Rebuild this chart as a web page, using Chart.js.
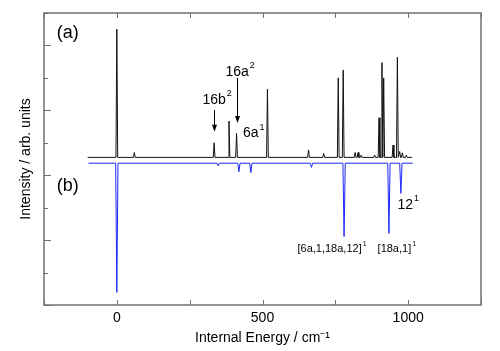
<!DOCTYPE html>
<html>
<head>
<meta charset="utf-8">
<script src="https://cdn.jsdelivr.net/npm/chart.js@4.4.0/dist/chart.umd.min.js"></script>
<style>
  html, body { margin: 0; padding: 0; background: #fff; }
  #wrap { width: 500px; height: 351px; }
</style>
</head>
<body>
<div id="wrap"><canvas id="spektrum"></canvas></div>
<script>
// spectrum (a): peak positions (cm-1) and heights above baseline (axis units)
const peakPosA = [0, 60, 334, 385, 411, 517, 658, 710, 760, 777, 818, 828, 839, 885, 900, 910, 916, 948, 963, 971, 980, 994];
const peakHeightA = [3.95, 0.15, 0.45, 1.12, 0.74, 2.10, 0.23, 0.12, 2.45, 2.69, 0.15, 0.15, 0.07, 0.07, 1.22, 2.92, 2.45, 0.38, 3.09, 0.18, 0.14, 0.07];
const baseA = 4.55;
const rangeA = [-100, 1013];

// spectrum (b): simulated, drawn downwards
const peakPosB = [0, 348, 419, 460, 668, 780, 934, 975];
const peakDepthB = [3.98, 0.08, 0.26, 0.29, 0.13, 2.26, 2.16, 0.93];
const baseB = 4.37;
const rangeB = [-97, 1016];

const xTickLabels = ["", "0", "", "500", "", "1000", ""];

const FONT = '"Liberation Sans", Arial, sans-serif';

function buildTrace(range, base, pos, h, sign, hw) {
  const pts = [{ x: range[0], y: base }];
  for (let i = 0; i < pos.length; i++) {
    pts.push({ x: pos[i] - hw, y: base });
    pts.push({ x: pos[i], y: base + sign * h[i] });
    pts.push({ x: pos[i] + hw, y: base });
  }
  pts.push({ x: range[1], y: base });
  return pts;
}

function supText(ctx, base, sup, x, y, size) {
  ctx.font = size + "px " + FONT;
  ctx.textBaseline = "middle";
  ctx.textAlign = "left";
  ctx.fillText(base, x, y);
  const w = ctx.measureText(base).width;
  ctx.font = Math.round(size * 0.62) + "px " + FONT;
  ctx.fillText(sup, x + w + 1, y - size * 0.45);
}

// inward ticks + grey frame
const frameTicks = {
  id: "frameTicks",
  afterDraw(chart) {
    const { ctx, chartArea: a, scales: { x, y } } = chart;
    ctx.save();
    ctx.strokeStyle = "#707070";
    ctx.lineWidth = 1.5;
    ctx.strokeRect(a.left, a.top, a.right - a.left, a.bottom - a.top);
    ctx.lineWidth = 1;
    ctx.beginPath();
    x.ticks.forEach((t) => {
      const px = Math.round(x.getPixelForValue(t.value)) + 0.5;
      ctx.moveTo(px, a.top); ctx.lineTo(px, a.top + 5);
      ctx.moveTo(px, a.bottom); ctx.lineTo(px, a.bottom - 5);
    });
    y.ticks.forEach((t) => {
      const py = Math.round(y.getPixelForValue(t.value)) + 0.5;
      const len = t.value % 2 === 0 ? 7 : 4;
      ctx.moveTo(a.left, py); ctx.lineTo(a.left + len, py);
    });
    ctx.stroke();
    ctx.restore();
  },
};

// labels and arrows
const labelsPlugin = {
  id: "labelsPlugin",
  afterDraw(chart) {
    const { ctx, scales: { x, y } } = chart;
    ctx.save();
    ctx.fillStyle = "#000";
    ctx.font = "18px " + FONT;
    ctx.textBaseline = "middle";
    ctx.textAlign = "left";
    ctx.fillText("(a)", x.getPixelForValue(-206), y.getPixelForValue(8.38));
    ctx.fillText("(b)", x.getPixelForValue(-206), y.getPixelForValue(3.68));

    supText(ctx, "16b", "2", x.getPixelForValue(294), y.getPixelForValue(6.32), 14);
    supText(ctx, "16a", "2", x.getPixelForValue(373), y.getPixelForValue(7.19), 14);
    supText(ctx, "6a", "1", x.getPixelForValue(433), y.getPixelForValue(5.29), 14);
    supText(ctx, "12", "1", x.getPixelForValue(963), y.getPixelForValue(3.08), 14);
    supText(ctx, "[6a,1,18a,12]", "1", x.getPixelForValue(620), y.getPixelForValue(1.73), 11);
    supText(ctx, "[18a,1]", "1", x.getPixelForValue(895), y.getPixelForValue(1.73), 11);

    const arrows = [[334, 6.01, 5.34], [411, 7.0, 5.61]];
    ctx.strokeStyle = "#000";
    ctx.lineWidth = 1;
    arrows.forEach((ar) => {
      const px = Math.round(x.getPixelForValue(ar[0])) + 0.5;
      const y0 = y.getPixelForValue(ar[1]);
      const y1 = y.getPixelForValue(ar[2]);
      ctx.beginPath();
      ctx.moveTo(px, y0); ctx.lineTo(px, y1 - 6);
      ctx.stroke();
      ctx.beginPath();
      ctx.moveTo(px - 2.5, y1 - 7); ctx.lineTo(px + 2.5, y1 - 7); ctx.lineTo(px, y1);
      ctx.closePath();
      ctx.fill();
    });
    ctx.restore();
  },
};

const data = {
  datasets: [
    {
      label: "exp",
      data: buildTrace(rangeA, baseA, peakPosA, peakHeightA, 1, 3),
      borderColor: "#111",
      borderWidth: 1,
      showLine: true,
      pointRadius: 0,
      tension: 0,
    },
    {
      label: "sim",
      data: buildTrace(rangeB, baseB, peakPosB, peakDepthB, -1, 4),
      borderColor: "rgb(30,40,250)",
      borderWidth: 1,
      showLine: true,
      pointRadius: 0,
      tension: 0,
    },
  ],
};

const config = {
  type: "scatter",
  data: data,
  options: {
    responsive: true,
    maintainAspectRatio: false,
    animation: false,
    layout: { padding: { top: 13, right: 19, left: 0, bottom: 0 } },
    plugins: {
      legend: { display: false },
      tooltip: { enabled: false },
    },
    scales: {
      x: {
        type: "linear",
        min: -250,
        max: 1250,
        afterFit: function (scale) { scale.height = 46; },
        grid: { display: false, drawTicks: false },
        border: { display: false },
        ticks: {
          stepSize: 250,
          padding: 5,
          color: "#000",
          font: { family: FONT, size: 14 },
          maxRotation: 0,
          autoSkip: false,
          callback: function (v, i) { return xTickLabels[i]; },
        },
        title: {
          display: true,
          text: "Internal Energy / cm\u207B\u00B9",
          color: "#000",
          font: { family: FONT, size: 14 },
          padding: { top: 0, bottom: 4 },
        },
      },
      y: {
        min: 0,
        max: 9,
        afterFit: function (scale) { scale.width = 44; },
        grid: { display: false, drawTicks: false },
        border: { display: false },
        ticks: { stepSize: 1, display: false },
        title: {
          display: true,
          text: "Intensity / arb. units",
          color: "#000",
          font: { family: FONT, size: 14 },
          padding: { top: 18, bottom: 0 },
        },
      },
    },
  },
  plugins: [frameTicks, labelsPlugin],
};

const spektrumChart = new Chart(document.getElementById("spektrum").getContext("2d"), config);
</script>
</body>
</html>
